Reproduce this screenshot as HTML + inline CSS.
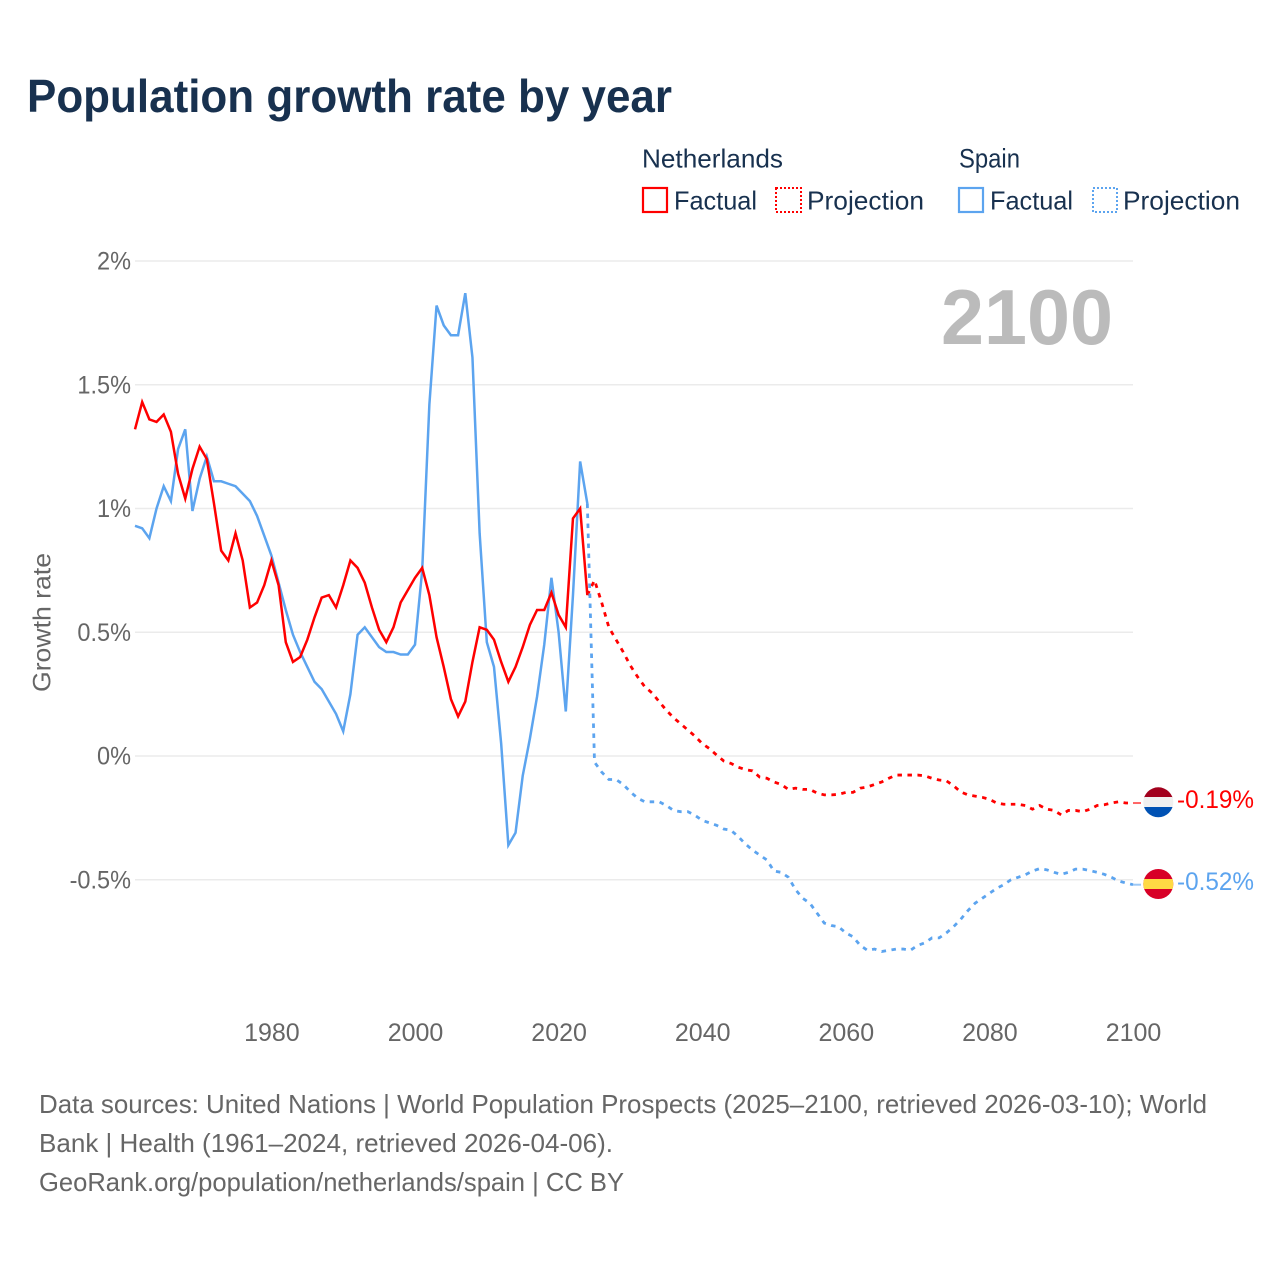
<!DOCTYPE html>
<html lang="en">
<head>
<meta charset="utf-8">
<title>Population growth rate by year</title>
<style>
html,body{margin:0;padding:0;background:#fff;}
svg{display:block;font-family:"Liberation Sans",sans-serif;}
</style>
</head>
<body>
<svg id="chart" xmlns="http://www.w3.org/2000/svg" width="1280" height="1280" viewBox="0 0 1280 1280">
<rect width="1280" height="1280" fill="#fff"/>
<text x="27" y="112" font-size="46" font-weight="700" fill="#18314f" textLength="645" lengthAdjust="spacingAndGlyphs">Population growth rate by year</text>

<g font-size="26" fill="#18314f">
<text x="642" y="167.500" textLength="141" lengthAdjust="spacingAndGlyphs">Netherlands</text>
<text x="959" y="167.500" font-size="27" textLength="61" lengthAdjust="spacingAndGlyphs">Spain</text>
<rect x="643" y="188" width="24" height="24" fill="none" stroke="#ff0000" stroke-width="2.200"/>
<text x="674" y="209.500" textLength="83" lengthAdjust="spacingAndGlyphs">Factual</text>
<rect x="776" y="188" width="25" height="24" fill="none" stroke="#ff0000" stroke-width="2" stroke-dasharray="2 2"/>
<text x="807" y="209.500" textLength="117" lengthAdjust="spacingAndGlyphs">Projection</text>
<rect x="959" y="188" width="24" height="24" fill="none" stroke="#5ca4ef" stroke-width="2.200"/>
<text x="990" y="209.500" textLength="83" lengthAdjust="spacingAndGlyphs">Factual</text>
<rect x="1093" y="188" width="24" height="24" fill="none" stroke="#5ca4ef" stroke-width="2" stroke-dasharray="2 2"/>
<text x="1123" y="209.500" textLength="117" lengthAdjust="spacingAndGlyphs">Projection</text>
</g>

<g id="grid"></g>
<g id="yticks" font-size="25" fill="#666" text-anchor="end"></g>
<g id="xticks" font-size="25" fill="#666" text-anchor="middle"></g>
<text transform="translate(50.500,692) rotate(-90)" font-size="25" fill="#666" textLength="139" lengthAdjust="spacingAndGlyphs">Growth rate</text>
<text x="941" y="344" font-size="78" font-weight="700" fill="#bbbbbb" textLength="172" lengthAdjust="spacingAndGlyphs">2100</text>

<g id="series"></g>

<g>
<clipPath id="clip-nl"><circle cx="1158.300" cy="802.300" r="15"/></clipPath>
<g clip-path="url(#clip-nl)">
<rect x="1143" y="787" width="31" height="11" fill="#a2001d"/>
<rect x="1143" y="797" width="31" height="11" fill="#f0f0f0"/>
<rect x="1143" y="807" width="31" height="11" fill="#0052b4"/>
</g>
</g>
<g>
<clipPath id="clip-es"><circle cx="1158.300" cy="884" r="15"/></clipPath>
<g clip-path="url(#clip-es)">
<rect x="1143" y="869" width="31" height="31" fill="#d80027"/>
<rect x="1143" y="879" width="31" height="10" fill="#ffda44"/>
</g>
</g>
<text id="label-nl" x="1177" y="808" font-size="25" fill="#ff0000" textLength="77" lengthAdjust="spacingAndGlyphs">-0.19%</text>
<text id="label-es" x="1177" y="890" font-size="25" fill="#5ca4ef" textLength="77" lengthAdjust="spacingAndGlyphs">-0.52%</text>

<g font-size="26" fill="#666">
<text x="39" y="1113" textLength="1168" lengthAdjust="spacingAndGlyphs">Data sources: United Nations | World Population Prospects (2025–2100, retrieved 2026-03-10); World</text>
<text x="39" y="1152" textLength="574" lengthAdjust="spacingAndGlyphs">Bank | Health (1961–2024, retrieved 2026-04-06).</text>
<text x="39" y="1191" textLength="585" lengthAdjust="spacingAndGlyphs">GeoRank.org/population/netherlands/spain | CC BY</text>
</g>
</svg>
<script>
var firstYear = 1961;
var projectionStartYear = 2024;
var xTickYears = [1980, 2000, 2020, 2040, 2060, 2080, 2100];
var yTickValues = [2, 1.5, 1, 0.5, 0, -0.5];
var yTickLabels = ["2%", "1.5%", "1%", "0.5%", "0%", "-0.5%"];

var netherlandsFactual = [
1.32,1.43,1.36,1.35,1.38,1.31,1.14,1.04,1.16,1.25,
1.20,1.02,0.83,0.79,0.90,0.79,0.60,0.62,0.69,0.79,
0.69,0.46,0.38,0.40,0.47,0.56,0.64,0.65,0.60,0.69,
0.79,0.76,0.70,0.60,0.51,0.46,0.52,0.62,0.67,0.72,
0.76,0.65,0.48,0.36,0.23,0.16,0.22,0.38,0.52,0.51,
0.47,0.38,0.30,0.36,0.44,0.53,0.59,0.59,0.66,0.57,
0.52,0.96,1.00,0.65];

var spainFactual = [
0.93,0.92,0.88,1.00,1.09,1.03,1.24,1.32,0.99,1.12,
1.21,1.11,1.11,1.10,1.09,1.06,1.03,0.97,0.89,0.81,
0.70,0.59,0.49,0.42,0.36,0.30,0.27,0.22,0.17,0.10,
0.25,0.49,0.52,0.48,0.44,0.42,0.42,0.41,0.41,0.45,
0.75,1.42,1.82,1.74,1.70,1.70,1.87,1.61,0.90,0.46,
0.36,0.05,-0.36,-0.31,-0.08,0.07,0.24,0.45,0.72,0.50,
0.18,0.65,1.19,1.02];

var netherlandsProjection = [
0.65,0.71,0.62,0.52,0.47,0.42,0.365,0.32,0.28,0.255,
0.22,0.185,0.155,0.13,0.105,0.08,0.05,0.03,0.004,-0.02,
-0.03,-0.045,-0.055,-0.06,-0.085,-0.09,-0.105,-0.115,-0.135,-0.13,
-0.135,-0.135,-0.15,-0.157,-0.157,-0.155,-0.147,-0.147,-0.13,-0.125,
-0.115,-0.105,-0.09,-0.077,-0.077,-0.077,-0.077,-0.08,-0.09,-0.097,
-0.10,-0.12,-0.145,-0.157,-0.162,-0.167,-0.175,-0.19,-0.195,-0.195,
-0.195,-0.20,-0.215,-0.20,-0.215,-0.22,-0.238,-0.22,-0.22,-0.225,
-0.215,-0.20,-0.197,-0.19,-0.185,-0.19,-0.19];

var spainProjection = [
1.02,-0.025,-0.065,-0.095,-0.095,-0.115,-0.145,-0.17,-0.185,-0.185,
-0.185,-0.20,-0.22,-0.225,-0.225,-0.24,-0.26,-0.27,-0.28,-0.295,
-0.30,-0.325,-0.355,-0.38,-0.40,-0.42,-0.465,-0.47,-0.49,-0.54,
-0.575,-0.595,-0.635,-0.675,-0.685,-0.69,-0.715,-0.73,-0.765,-0.785,
-0.78,-0.79,-0.785,-0.78,-0.78,-0.785,-0.765,-0.755,-0.735,-0.735,
-0.715,-0.69,-0.66,-0.625,-0.595,-0.575,-0.555,-0.535,-0.52,-0.50,
-0.49,-0.48,-0.465,-0.455,-0.46,-0.47,-0.478,-0.47,-0.457,-0.457,
-0.463,-0.47,-0.478,-0.49,-0.505,-0.513,-0.52];

var SVG_NS = "http://www.w3.org/2000/svg";
function xScale(year) { return 135 + (year - 1961) * (1133 - 135) / (2100 - 1961); }
function yScale(v) { return 756 - v * 247.5; }
function make(tag, parentId) {
  var el = document.createElementNS(SVG_NS, tag);
  document.getElementById(parentId).appendChild(el);
  return el;
}
function pointsFrom(values, startYear) {
  return values.map(function (v, i) {
    return xScale(startYear + i).toFixed(2) + "," + yScale(v).toFixed(2);
  }).join(" ");
}

yTickValues.forEach(function (v, i) {
  var line = make("line", "grid");
  
  
  line.setAttribute("x1", 135);
  line.setAttribute("x2", 1133);
  line.setAttribute("y1", yScale(v));
  line.setAttribute("y2", yScale(v));
  line.setAttribute("stroke", "#ebebeb");
  line.setAttribute("stroke-width", "1.5");
  var t = make("text", "yticks");
  
  
  t.setAttribute("x", 131);
  t.setAttribute("y", yScale(v) + 8.5);
  t.textContent = yTickLabels[i];
  t.setAttribute("textLength", (t.getComputedTextLength() * 0.94).toFixed(1));
  t.setAttribute("lengthAdjust", "spacingAndGlyphs");
});

xTickYears.forEach(function (year) {
  var t = make("text", "xticks");
  
  
  t.setAttribute("x", xScale(year) + 0.5);
  t.setAttribute("y", 1041);
  t.textContent = String(year);
});

function drawLine(values, startYear, color, dashed, name) {
  var p = make("polyline", "series");
  
  
  p.setAttribute("points", pointsFrom(values, startYear));
  p.setAttribute("fill", "none");
  p.setAttribute("stroke", color);
  p.setAttribute("stroke-width", dashed ? "2.8" : "2.5");
  p.setAttribute("stroke-linejoin", "miter");
  if (dashed) p.setAttribute("stroke-dasharray", "4.500 5.500");
}

function drawConnector(values, color, name) {
  var c = make("line", "series");
  
  
  var last = values[values.length - 1];
  c.setAttribute("x1", xScale(2100));
  c.setAttribute("x2", xScale(2100) + 8);
  c.setAttribute("y1", yScale(last));
  c.setAttribute("y2", yScale(last));
  c.setAttribute("stroke", color);
  c.setAttribute("stroke-width", "2");
  c.setAttribute("opacity", "0.6");
}

drawLine(netherlandsProjection, projectionStartYear, "#ff0000", true, "line-netherlands-projection");
drawLine(spainProjection, projectionStartYear, "#5ca4ef", true, "line-spain-projection");
drawLine(spainFactual, firstYear, "#5ca4ef", false, "line-spain-factual");
drawLine(netherlandsFactual, firstYear, "#ff0000", false, "line-netherlands-factual");
drawConnector(netherlandsProjection, "#ff0000", "connector-netherlands");
drawConnector(spainProjection, "#5ca4ef", "connector-spain");
</script>
</body>
</html>
